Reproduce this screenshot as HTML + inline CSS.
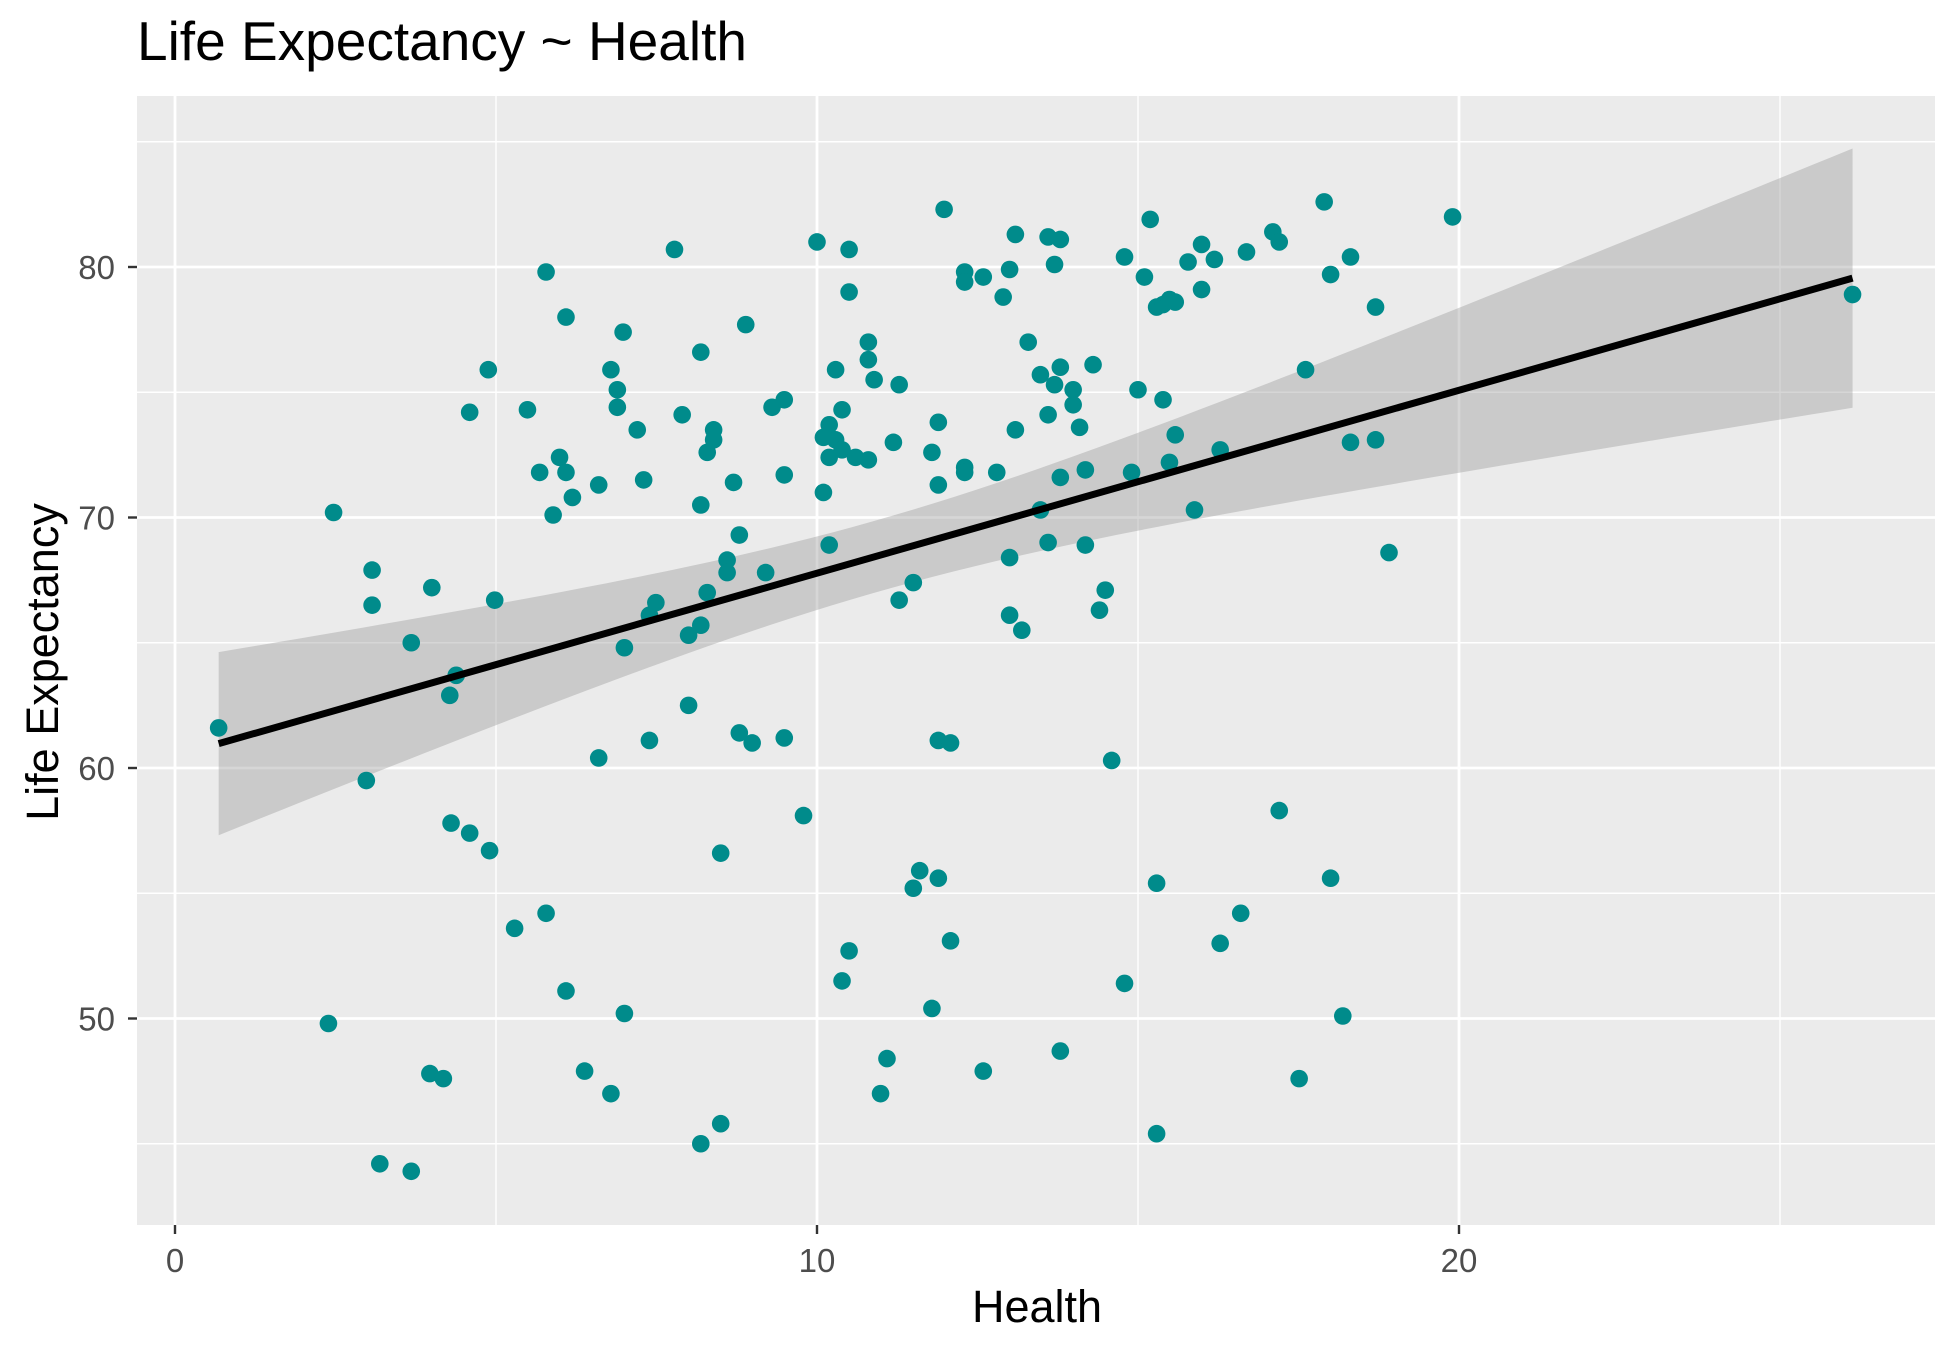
<!DOCTYPE html>
<html><head><meta charset="utf-8"><style>
html,body{margin:0;padding:0;background:#fff;}
svg{display:block;font-family:"Liberation Sans",Arial,sans-serif;}
</style></head><body>
<svg id="chart" width="1950" height="1349" viewBox="0 0 1950 1349" xmlns="http://www.w3.org/2000/svg">
<text x="137" y="60" font-size="55" fill="#000">Life Expectancy ~ Health</text>
<rect x="137" y="96" width="1798" height="1129" fill="#EBEBEB"/>
<g id="grid"></g>
<g id="band"></g>
<g id="points"></g>
<g id="fit"></g>
<g id="axes"></g>
<text x="1037" y="1322" font-size="45" text-anchor="middle" fill="#000">Health</text>
<text x="0" y="0" font-size="45" text-anchor="middle" fill="#000" transform="translate(58,662) rotate(-90)">Life Expectancy</text>
</svg>
<script>
const health = [0.68,2.47,2.39,3.07,3.07,2.98,3.19,3.68,3.68,4.0,3.97,4.18,4.28,4.38,4.30,4.59,4.59,4.88,4.98,4.90,5.29,5.49,5.68,5.78,5.78,5.89,5.99,6.09,6.09,6.09,6.19,6.38,6.60,6.60,6.79,6.89,6.89,6.79,6.98,7.0,7.0,7.2,7.3,7.39,7.49,7.39,7.78,7.9,8.0,8.0,8.19,8.19,8.19,8.19,8.29,8.29,8.39,8.39,8.5,8.5,8.6,8.6,8.7,8.79,8.79,8.89,8.99,9.2,9.3,9.49,9.49,9.49,9.79,10.0,10.1,10.1,10.19,10.19,10.19,10.29,10.29,10.39,10.39,10.39,10.5,10.5,10.5,10.6,10.8,10.8,10.8,10.89,10.99,11.09,11.19,11.28,11.28,11.5,11.5,11.6,11.79,11.79,11.89,11.89,11.89,11.89,11.98,12.08,12.08,12.3,12.3,12.3,12.3,12.59,12.59,12.8,12.9,13.0,13.0,13.0,13.09,13.09,13.19,13.29,13.48,13.48,13.6,13.6,13.6,13.7,13.7,13.79,13.79,13.79,13.79,13.99,13.99,14.09,14.18,14.18,14.3,14.4,14.49,14.59,14.79,14.79,14.9,15.0,15.1,15.19,15.29,15.29,15.29,15.39,15.39,15.49,15.49,15.58,15.58,15.78,15.88,15.99,15.99,16.19,16.28,16.28,16.6,16.69,17.1,17.2,17.2,17.51,17.61,17.9,18.0,18.0,18.19,18.31,18.31,18.7,18.7,18.91,19.9,26.13];
const lifeExp = [61.6,70.2,49.8,67.9,66.5,59.5,44.2,65.0,43.9,67.2,47.8,47.6,62.9,63.7,57.8,74.2,57.4,75.9,66.7,56.7,53.6,74.3,71.8,79.8,54.2,70.1,72.4,78.0,71.8,51.1,70.8,47.9,71.3,60.4,75.9,75.1,74.4,47.0,77.4,64.8,50.2,73.5,71.5,66.1,66.6,61.1,80.7,74.1,65.3,62.5,76.6,70.5,65.7,45.0,72.6,67.0,73.5,73.1,56.6,45.8,68.3,67.8,71.4,69.3,61.4,77.7,61.0,67.8,74.4,74.7,71.7,61.2,58.1,81.0,73.2,71.0,73.7,72.4,68.9,75.9,73.1,72.7,74.3,51.5,80.7,79.0,52.7,72.4,77.0,76.3,72.3,75.5,47.0,48.4,73.0,75.3,66.7,67.4,55.2,55.9,72.6,50.4,73.8,71.3,61.1,55.6,82.3,61.0,53.1,79.8,79.4,72.0,71.8,79.6,47.9,71.8,78.8,79.9,68.4,66.1,81.3,73.5,65.5,77.0,75.7,70.3,81.2,74.1,69.0,80.1,75.3,81.1,76.0,71.6,48.7,75.1,74.5,73.6,71.9,68.9,76.1,66.3,67.1,60.3,80.4,51.4,71.8,75.1,79.6,81.9,78.4,55.4,45.4,78.5,74.7,78.7,72.2,78.6,73.3,80.2,70.3,80.9,79.1,80.3,72.7,53.0,54.2,80.6,81.4,81.0,58.3,47.6,75.9,82.6,79.7,55.6,50.1,80.4,73.0,78.4,73.1,68.6,82.0,78.9];
const xTicks = [0,10,20];
const yTicks = [50,60,70,80];
const xMinor = [5,15,25];
const yMinor = [45,55,65,75,85];

const NS="http://www.w3.org/2000/svg";
const PL=137,PR=1935,PT=96,PB=1225;
function sx(v){return 175 + v*64.2;}
function sy(v){return 267 - (v-80)*25.05;}
function mk(tag,attrs,parent){const e=document.createElementNS(NS,tag);for(const k in attrs)e.setAttribute(k,attrs[k]);parent.appendChild(e);return e;}

const grid=document.getElementById('grid');
xMinor.forEach(v=>{const l=mk('line',{x1:sx(v),x2:sx(v),y1:PT,y2:PB,stroke:'#fff','stroke-width':1.4},grid);

});
yMinor.forEach(v=>{const l=mk('line',{x1:PL,x2:PR,y1:sy(v),y2:sy(v),stroke:'#fff','stroke-width':1.4},grid);

});
xTicks.forEach(v=>{const l=mk('line',{x1:sx(v),x2:sx(v),y1:PT,y2:PB,stroke:'#fff','stroke-width':2.8},grid);

});
yTicks.forEach(v=>{const l=mk('line',{x1:PL,x2:PR,y1:sy(v),y2:sy(v),stroke:'#fff','stroke-width':2.8},grid);

});

const n=health.length;
const mx=health.reduce((a,b)=>a+b,0)/n, my=lifeExp.reduce((a,b)=>a+b,0)/n;
let sxx=0,sxy=0;for(let i=0;i<n;i++){sxx+=(health[i]-mx)**2;sxy+=(health[i]-mx)*(lifeExp[i]-my);}
const b=sxy/sxx,a=my-b*mx;
let sse=0;for(let i=0;i<n;i++){sse+=(lifeExp[i]-a-b*health[i])**2;}
const s=Math.sqrt(sse/(n-2)), t=1.973;
const xmin=Math.min(...health), xmax=Math.max(...health);
const up=[],lo=[];
for(let k=0;k<=80;k++){const x=xmin+(xmax-xmin)*k/80;const yh=a+b*x;const se=s*Math.sqrt(1/n+(x-mx)**2/sxx);
up.push(sx(x)+','+sy(yh+t*se));lo.push(sx(x)+','+sy(yh-t*se));}
const band=mk('polygon',{points:up.concat(lo.reverse()).join(' '),fill:'#999999','fill-opacity':0.4},document.getElementById('band'));



const pts=document.getElementById('points');
for(let i=0;i<n;i++){const c=mk('circle',{cx:sx(health[i]),cy:sy(lifeExp[i]),r:8.8,fill:'#008B8B'},pts);

}

const fl=mk('line',{x1:sx(xmin),y1:sy(a+b*xmin),x2:sx(xmax),y2:sy(a+b*xmax),stroke:'#000','stroke-width':7},document.getElementById('fit'));



const ax=document.getElementById('axes');
xTicks.forEach(v=>{const l=mk('line',{x1:sx(v),x2:sx(v),y1:PB,y2:PB+9,stroke:'#333','stroke-width':2.4},ax);


const tx=mk('text',{x:sx(v),y:PB+47,'font-size':33,'text-anchor':'middle',fill:'#4D4D4D'},ax);tx.textContent=v;

});
yTicks.forEach(v=>{const l=mk('line',{x1:PL-9,x2:PL,y1:sy(v),y2:sy(v),stroke:'#333','stroke-width':2.4},ax);


const tx=mk('text',{x:115,y:sy(v)+12,'font-size':33,'text-anchor':'end',fill:'#4D4D4D'},ax);tx.textContent=v;

});
</script>
</body></html>
